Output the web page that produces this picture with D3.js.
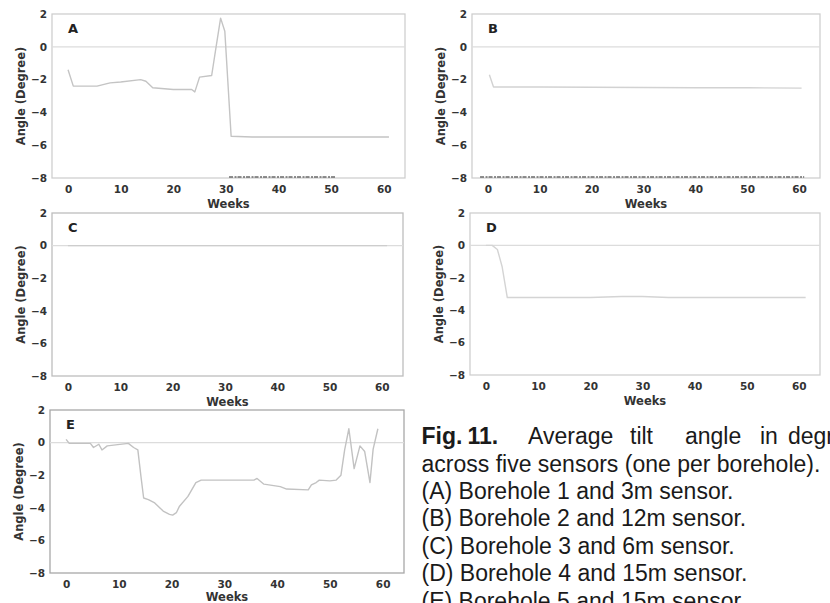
<!DOCTYPE html>
<html><head><meta charset="utf-8">
<script src="https://cdn.jsdelivr.net/npm/d3@7"></script>
<style>body{margin:0;background:#fff}svg{display:block}</style>
</head><body>
<svg id="c" width="830" height="603"></svg>
<script>
// ---------- data ----------
const xTicks = [0, 10, 20, 30, 40, 50, 60];
const yTicks = [-8, -6, -4, -2, 0, 2];
const panelLetters = ["A", "B", "C", "D", "E"];
const xLabel = "Weeks";
const yLabel = "Angle (Degree)";

const weeksA = [0, 1, 5.5, 8, 10, 13.8, 14.8, 16.1, 20, 23.5, 24.1, 25, 27.3, 28, 29, 29.8, 31, 35, 40, 45, 50, 55, 61];
const angleA = [-1.4, -2.4, -2.4, -2.2, -2.15, -2.0, -2.1, -2.5, -2.6, -2.6, -2.75, -1.85, -1.75, -0.3, 1.75, 0.95, -5.45, -5.5, -5.5, -5.5, -5.5, -5.5, -5.5];

const weeksB = [0.3, 1.1, 10, 20, 30, 40, 50, 60.5];
const angleB = [-1.7, -2.45, -2.45, -2.47, -2.48, -2.5, -2.5, -2.52];

const weeksC = [0, 10, 20, 30, 40, 50, 61];
const angleC = [0, 0, 0, 0, 0, 0, 0];

const weeksD = [0, 1.2, 2.2, 3.1, 4.1, 10, 20, 26, 30, 35, 45, 61.3];
const angleD = [0, 0, -0.25, -1.3, -3.22, -3.22, -3.22, -3.15, -3.15, -3.22, -3.22, -3.22];

const weeksE = [0, 0.6, 4.6, 5.2, 6.2, 6.8, 7.8, 11.8, 12.8, 13.6, 14.2, 14.7, 15.6, 16.8, 18.4, 19.6, 20.2, 20.9, 21.5, 23.1, 24.6, 25.6, 27.1, 35.6, 36.2, 37.5, 40.6, 41.8, 45.9, 46.5, 47.4, 48, 50, 51.2, 52.1, 52.8, 53.6, 54.6, 55.7, 56.6, 57.6, 58.2, 59.1];
const angleE = [0.2, -0.05, -0.05, -0.3, -0.1, -0.45, -0.2, -0.05, -0.3, -0.45, -2.1, -3.4, -3.5, -3.7, -4.2, -4.4, -4.45, -4.3, -3.9, -3.3, -2.45, -2.3, -2.3, -2.3, -2.2, -2.55, -2.7, -2.85, -2.9, -2.6, -2.45, -2.3, -2.35, -2.3, -2.0, -0.45, 0.85, -1.6, -0.2, -0.55, -2.45, -0.4, 0.85];

// scan marks along the lower axis (week ranges)
const bottomMarksA = [30.6, 51];
const bottomMarksB = [-1.5, 61];

const captionWords1 = ["Fig.", "11.", "Average", "tilt", "angle", "in", "degrees"];
const captionLines = [
  "across five sensors (one per borehole).",
  "(A) Borehole 1 and 3m sensor.",
  "(B) Borehole 2 and 12m sensor.",
  "(C) Borehole 3 and 6m sensor.",
  "(D) Borehole 4 and 15m sensor.",
  "(E) Borehole 5 and 15m sensor."
];

// ---------- layout ----------
const svg = d3.select("#c");
const panels = [
  {weeks: weeksA, angle: angleA, box: [52, 14, 405, 178], stroke: "#c4c4c4", frame: "#cfcfcf", tickPad: 8, labelOff: 29.5, marks: bottomMarksA},
  {weeks: weeksB, angle: angleB, box: [472, 14, 820, 178], stroke: "#d2d2d2", frame: "#cfcfcf", tickPad: 8, labelOff: 29.5, marks: bottomMarksB},
  {weeks: weeksC, angle: angleC, box: [52, 213, 403, 376], stroke: "#cdcdcd", frame: "#bdbdbd", tickPad: 8, labelOff: 29.5},
  {weeks: weeksD, angle: angleD, box: [470, 213, 820, 375], stroke: "#d4d4d4", frame: "#cfcfcf", tickPad: 8, labelOff: 29.5},
  {weeks: weeksE, angle: angleE, box: [50, 410, 404, 573], stroke: "#c2c2c2", frame: "#a8a8a8", tickPad: 7.5, labelOff: 27.5}
];
const xDomain = [-3.05, 64.05];
const yDomain = [-8, 2];
const fontAxis = "'DejaVu Sans', sans-serif";

panels.forEach((p, i) => {
  const [x0, y0, x1, y1] = p.box;
  const x = d3.scaleLinear().domain(xDomain).range([x0, x1]);
  const y = d3.scaleLinear().domain(yDomain).range([y1, y0]);
  const g = svg.append("g");

  g.append("rect").attr("x", x0).attr("y", y0).attr("width", x1 - x0).attr("height", y1 - y0)
    .attr("fill", "none").attr("stroke", p.frame).attr("stroke-width", 1.3);

  g.append("line").attr("x1", x0).attr("x2", x1).attr("y1", y(0)).attr("y2", y(0))
    .attr("stroke", "#dcdcdc").attr("stroke-width", 1.3);

  const pts = p.weeks.map((w, k) => [w, p.angle[k]]);
  g.append("path").datum(pts)
    .attr("fill", "none").attr("stroke", p.stroke).attr("stroke-width", 1.4)
    .attr("stroke-linejoin", "round")
    .attr("d", d3.line().x(d => x(d[0])).y(d => y(d[1])));

  if (p.marks) {
    g.append("line").attr("x1", x(p.marks[0])).attr("x2", x(p.marks[1]))
      .attr("y1", y(-8) - 1).attr("y2", y(-8) - 1)
      .attr("stroke", "#6a6a6a").attr("stroke-width", 1.4).attr("stroke-dasharray", "4,1.5,2,1");
  }

  const ax = g.append("g").attr("transform", `translate(0,${y1})`)
    .call(d3.axisBottom(x).tickValues(xTicks).tickSize(0).tickPadding(p.tickPad).tickFormat(d3.format("d")));
  const ay = g.append("g").attr("transform", `translate(${x0},0)`)
    .call(d3.axisLeft(y).tickValues(yTicks).tickSize(0).tickPadding(5).tickFormat(d3.format("d")));
  [ax, ay].forEach(a => {
    a.select(".domain").remove();
    a.selectAll("text").attr("font-family", fontAxis).attr("font-size", 10.5)
      .attr("font-weight", "bold").attr("fill", "#333");
  });

  g.append("text").attr("x", (x0 + x1) / 2).attr("y", y1 + p.labelOff)
    .attr("text-anchor", "middle").attr("font-family", fontAxis).attr("font-size", 11.5)
    .attr("font-weight", "bold").attr("fill", "#333").text(xLabel);
  g.append("text").attr("transform", `translate(${x0 - 31},${(y0 + y1) / 2}) rotate(-90)`)
    .attr("text-anchor", "middle").attr("dy", "0.35em").attr("font-family", fontAxis).attr("font-size", 11.5)
    .attr("font-weight", "bold").attr("fill", "#333").text(yLabel);

  g.append("text").attr("x", x0 + 16).attr("y", y0 + 18.5)
    .attr("font-family", fontAxis).attr("font-size", 13).attr("font-weight", "bold")
    .attr("fill", "#222").text(panelLetters[i]);
});

// ---------- caption ----------
const capFont = "'Liberation Sans', Arial, sans-serif";
const wordX = [421.5, 467.5, 528, 630, 685, 760, 788];
const cap1 = svg.append("text").attr("y", 444).attr("font-family", capFont).attr("font-size", 23).attr("fill", "#1a1a1a");
captionWords1.forEach((w, k) => {
  cap1.append("tspan").attr("x", wordX[k]).attr("font-weight", k < 2 ? "bold" : "normal").text(w);
});
captionLines.forEach((t, k) => {
  svg.append("text").attr("x", 421.5).attr("y", 471.5 + k * 27.4)
    .attr("font-family", capFont).attr("font-size", 23).attr("fill", "#1a1a1a").text(t);
});
</script>
</body></html>
